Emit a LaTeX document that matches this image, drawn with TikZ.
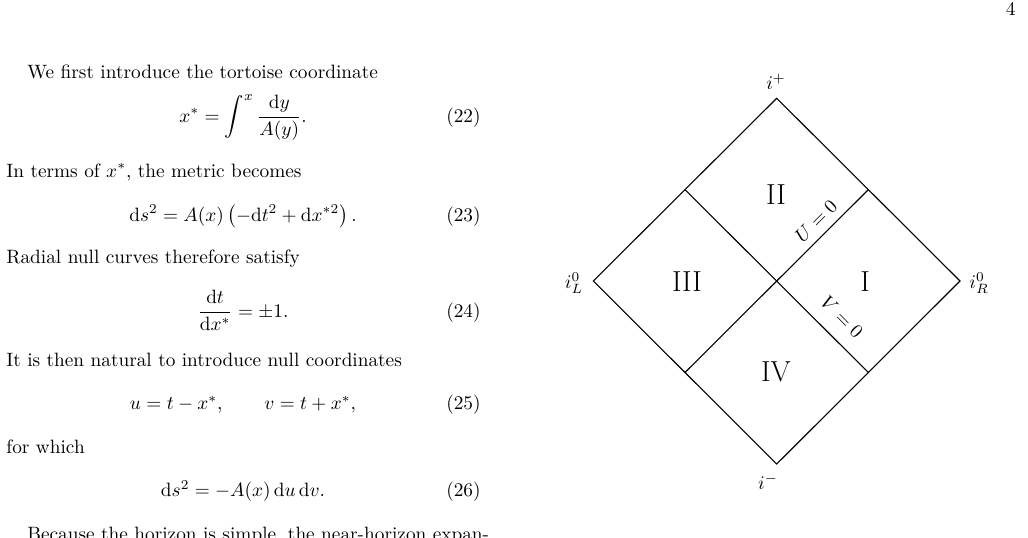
\documentclass[tikz,border=0pt]{standalone}
\usepackage{amsmath}
\usetikzlibrary{calc}
\begin{document}
\begin{tikzpicture}[x=1pt,y=-1pt,
  sz/.style={inner sep=0pt,scale=1.93,transform shape},
  txt/.style={sz,anchor=base west},
  eq/.style={sz,anchor=base},
  num/.style={sz,anchor=base east},
  lab/.style={sz},
  reg/.style={sz,font=\fontsize{15}{18}\selectfont},
  edge/.style={line width=1.1pt}]
\useasboundingbox (0,0) rectangle (1028,538);
\clip (0,0) rectangle (1028,538);
\node[num] (pg) at (1016,16) {4};
\node[txt] (t1) at (27,78) {We first introduce the tortoise coordinate};
\node[eq] (e22) at (243,122) {$\displaystyle x^* = \int^x \frac{\mathrm{d}y}{A(y)}.$};
\node[num] (n22) at (481,122) {(22)};
\node[txt] (t2) at (6,177) {In terms of $x^*$, the metric becomes};
\node[eq] (e23) at (243,221) {$\mathrm{d}s^2 = A(x)\left(-\mathrm{d}t^2+\mathrm{d}x^{*2}\right).$};
\node[num] (n23) at (481,221) {(23)};
\node[txt] (t3) at (6,263) {Radial null curves therefore satisfy};
\node[eq] (e24) at (243,317) {$\displaystyle \frac{\mathrm{d}t}{\mathrm{d}x^*} = \pm 1.$};
\node[num] (n24) at (481,317) {(24)};
\node[txt] (t4) at (6,366) {It is then natural to introduce null coordinates};
\node[eq] (e25) at (243,409) {$u = t - x^*, \qquad v = t + x^*,$};
\node[num] (n25) at (481,409) {(25)};
\node[txt] (t5) at (6,453) {for which};
\node[eq] (e26) at (243,496) {$\mathrm{d}s^2 = -A(x)\,\mathrm{d}u\,\mathrm{d}v.$};
\node[num] (n26) at (481,496) {(26)};
\node[txt] (t6) at (27,540) {Because the horizon is simple, the near-horizon expan-};
% diagram
\coordinate (T) at (776.7,98.3);
\coordinate (L) at (593.3,281);
\coordinate (R) at (960,281);
\coordinate (B) at (776.7,464);
\coordinate (TL) at ($(T)!0.5!(L)$);
\coordinate (TR) at ($(T)!0.5!(R)$);
\coordinate (BL) at ($(B)!0.5!(L)$);
\coordinate (BR) at ($(B)!0.5!(R)$);
\draw[edge] (T) -- (R) -- (B) -- (L) -- cycle;
\draw[edge] (TL) -- (BR);
\draw[edge] (BL) -- (TR);
\node[lab] (ip) at (776,82) {$i^+$};
\node[lab] (im) at (768,482) {$i^-$};
\node[lab] (iL) at (574,283) {$i^0_L$};
\node[lab] (iR) at (979,283) {$i^0_R$};
\node[reg] (r2) at (776,195) {II};
\node[reg] (r3) at (687,282) {III};
\node[reg] (r1) at (865,282) {I};
\node[reg] (r4) at (776,372) {IV};
\node[lab,rotate=45] (u0) at (816,221) {$U=0$};
\node[lab,rotate=-45] (v0) at (842,317) {$V=0$};
\end{tikzpicture}
\end{document}
